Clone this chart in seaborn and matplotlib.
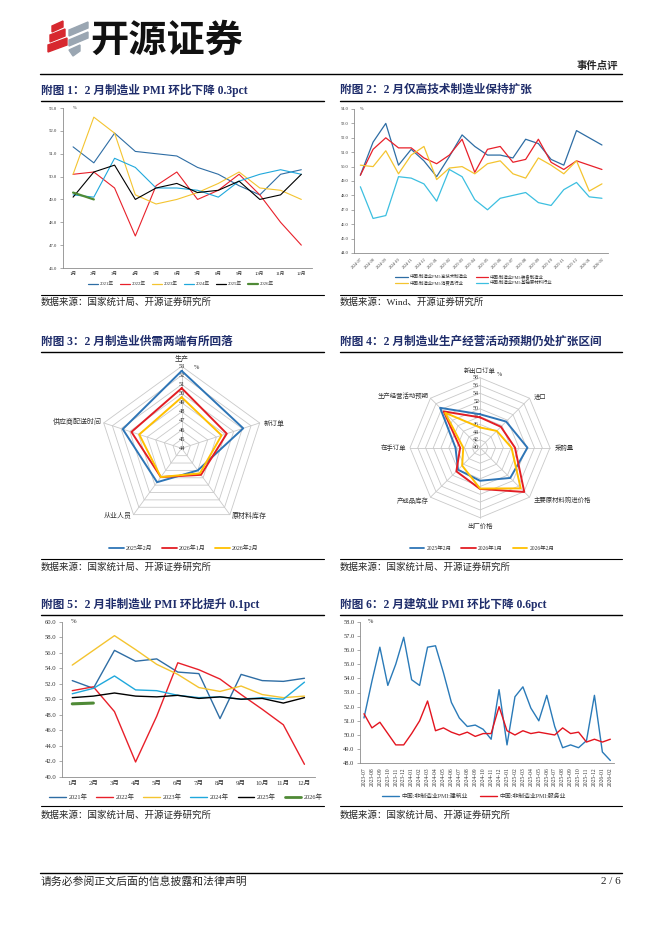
import numpy as np
import pandas as pd
import matplotlib
matplotlib.use("Agg")
import matplotlib.pyplot as plt
import seaborn as sns
from matplotlib.lines import Line2D
from matplotlib.patches import Polygon
from matplotlib.ticker import FormatStrFormatter

# 页面尺寸（像素）
W, H = 662, 936
sns.set_theme(style="white")
plt.rcParams['font.family'] = ['Liberation Serif', 'Noto Sans CJK SC', 'DejaVu Sans']
plt.rcParams['axes.unicode_minus'] = False

NAVY = "#1f2d6b"

# ---------------- 数据 ----------------
months = ["1月", "2月", "3月", "4月", "5月", "6月", "7月", "8月", "9月", "10月", "11月", "12月"]
year_names = ["2021年", "2022年", "2023年", "2024年", "2025年", "2026年"]
year_colors = ["#2e6da4", "#e8202a", "#f4c430", "#1fa8dc", "#000000", "#4f8a36"]

# 附图1 制造业PMI
pmi_2021 = [51.3, 50.6, 51.9, 51.1, 51.0, 50.9, 50.4, 50.1, 49.6, 49.2, 50.1, 50.3]
pmi_2022 = [50.1, 50.2, 49.5, 47.4, 49.6, 50.2, 49.0, 49.4, 50.1, 49.2, 48.0, 47.0]
pmi_2023 = [50.1, 52.6, 51.9, 49.2, 48.8, 49.0, 49.3, 49.7, 50.2, 49.5, 49.4, 49.0]
pmi_2024 = [49.2, 49.1, 50.8, 50.4, 49.5, 49.5, 49.4, 49.1, 49.8, 50.1, 50.3, 50.1]
pmi_2025 = [49.1, 50.2, 50.5, 49.0, 49.5, 49.7, 49.3, 49.4, 49.8, 49.0, 49.2, 50.1]
pmi_2026 = [49.3, 49.0]

# 附图2 分行业PMI
ind_months = ["2024-07", "2024-08", "2024-09", "2024-10", "2024-11", "2024-12",
              "2025-01", "2025-02", "2025-03", "2025-04", "2025-05", "2025-06",
              "2025-07", "2025-08", "2025-09", "2025-10", "2025-11", "2025-12",
              "2026-01", "2026-02"]
ind_names = ["中国:制造业PMI:高技术制造业", "中国:制造业PMI:装备制造业",
             "中国:制造业PMI:消费品行业", "中国:制造业PMI:基础原材料行业"]
ind_colors = ["#2e6da4", "#e8202a", "#f4c430", "#3cbfe0"]
hitech = [49.4, 51.7, 53.0, 50.1, 51.2, 50.4, 49.3, 50.7, 52.2, 51.4,
          50.8, 50.8, 50.6, 51.9, 51.6, 50.5, 50.1, 52.5, 52.0, 51.5]
equip = [49.4, 51.2, 52.0, 51.3, 51.3, 50.6, 50.2, 50.8, 51.9, 49.6,
         51.2, 51.4, 50.3, 50.5, 51.9, 50.3, 49.8, 50.4, 50.1, 49.8]
consumer = [50.1, 50.0, 51.1, 49.5, 50.8, 51.4, 49.1, 49.9, 50.0, 49.5,
            50.2, 50.4, 49.5, 49.2, 50.6, 50.1, 49.5, 50.4, 48.3, 48.8]
material = [48.6, 46.4, 46.6, 49.3, 49.2, 48.8, 47.6, 49.8, 49.3, 47.7,
            47.0, 47.8, 48.0, 48.2, 47.5, 47.3, 48.4, 48.9, 47.9, 47.8]

# 附图3 供需分项
sd_axes = ["生产", "新订单", "原材料库存", "从业人员", "供应商配送时间"]
sd_names = ["2025年2月", "2026年1月", "2026年2月"]
radar_colors = ["#2e75b6", "#e31e24", "#ffc000"]
sd_2502 = [52.5, 51.1, 47.0, 48.6, 50.8]
sd_2601 = [50.6, 49.2, 47.6, 47.9, 49.8]
sd_2602 = [49.6, 48.6, 47.4, 47.9, 48.9]

# 附图4 其他分项
op_axes = ["新出口订单", "进口", "采购量", "主要原材料购进价格",
           "出厂价格", "产成品库存", "在手订单", "生产经营活动预期"]
op_2502 = [48.6, 49.5, 52.2, 51.0, 48.5, 48.0, 46.3, 54.5]
op_2601 = [47.8, 47.6, 49.0, 56.1, 50.6, 48.6, 45.1, 53.2]
op_2602 = [45.2, 46.1, 48.1, 54.8, 50.5, 46.5, 44.3, 52.7]

# 附图5 非制造业PMI
nm_2021 = [52.4, 51.4, 56.3, 54.9, 55.2, 53.5, 53.3, 47.5, 53.2, 52.4, 52.3, 52.7]
nm_2022 = [51.1, 51.6, 48.4, 41.9, 47.8, 54.7, 53.8, 52.6, 50.6, 48.7, 46.7, 41.6]
nm_2023 = [54.4, 56.3, 58.2, 56.4, 54.5, 53.2, 51.5, 51.0, 51.7, 50.6, 50.2, 50.4]
nm_2024 = [50.7, 51.4, 53.0, 51.2, 51.1, 50.5, 50.2, 50.3, 50.0, 50.2, 50.0, 52.2]
nm_2025 = [50.2, 50.4, 50.8, 50.4, 50.3, 50.5, 50.1, 50.3, 50.0, 50.1, 49.5, 50.2]
nm_2026 = [49.4, 49.5]

# 附图6 建筑业与服务业
cs_months = ["2023-07", "2023-08", "2023-09", "2023-10", "2023-11", "2023-12",
             "2024-01", "2024-02", "2024-03", "2024-04", "2024-05", "2024-06",
             "2024-07", "2024-08", "2024-09", "2024-10", "2024-11", "2024-12",
             "2025-01", "2025-02", "2025-03", "2025-04", "2025-05", "2025-06",
             "2025-07", "2025-08", "2025-09", "2025-10", "2025-11", "2025-12",
             "2026-01", "2026-02"]
cs_names = ["中国:非制造业PMI:建筑业", "中国:非制造业PMI:服务业"]
cs_colors = ["#2a7ab8", "#e3141f"]
construction = [51.2, 53.8, 56.2, 53.5, 55.0, 56.9, 53.9, 53.5, 56.2, 56.3, 54.4, 52.3,
                51.2, 50.6, 50.7, 50.4, 49.7, 53.2, 49.3, 52.7, 53.4, 51.9, 51.0, 52.8,
                50.6, 49.1, 49.3, 49.1, 49.6, 52.8, 48.8, 48.2]
services = [51.5, 50.5, 50.9, 50.1, 49.3, 49.3, 50.1, 51.0, 52.4, 50.3, 50.5, 50.2,
            50.0, 50.2, 49.9, 50.1, 50.1, 52.0, 50.3, 50.0, 50.3, 50.1, 50.2, 50.1,
            50.0, 50.5, 50.1, 50.2, 49.5, 49.7, 49.5, 49.7]


# ---------------- 工具 ----------------
def box(x0, y0, x1, y1):
    return [x0 / W, 1 - y1 / H, (x1 - x0) / W, (y1 - y0) / H]


def ftext(x, y, s, **kw):
    fig.text(x / W, 1 - y / H, s, **kw)


def hline(x0, x1, y, lw=1.0, color="black"):
    fig.add_artist(Line2D([x0 / W, x1 / W], [1 - y / H, 1 - y / H], color=color, lw=lw))


def style_line_ax(ax, ylim, ystep, labels, fs_y, fs_x, rot=0, pct_x=0.04):
    n = len(labels)
    ax.set_xlim(-0.5, n - 0.5)
    ax.set_ylim(*ylim)
    ax.set_yticks(np.arange(ylim[0], ylim[1] + ystep / 2, ystep))
    ax.yaxis.set_major_formatter(FormatStrFormatter('%.1f'))
    ax.set_xticks(range(n))
    if rot == 45:
        ax.set_xticklabels(labels, rotation=45, ha="right", rotation_mode="anchor", fontsize=fs_x)
    elif rot == 90:
        ax.set_xticklabels(labels, rotation=90, fontsize=fs_x)
    else:
        ax.set_xticklabels(labels, fontsize=fs_x)
    ax.set_xticks(np.arange(-0.5, n), minor=True)
    ax.tick_params(axis='x', which='major', length=0, pad=3, colors="#333333")
    ax.tick_params(axis='x', which='minor', length=2, width=0.5, color="#888888", direction="out")
    ax.tick_params(axis='y', which='major', length=2, width=0.5, color="#888888",
                   labelsize=fs_y, labelcolor="#333333", pad=2, left=True)
    for s in ["top", "right"]:
        ax.spines[s].set_visible(False)
    for s in ["left", "bottom"]:
        ax.spines[s].set_color("#8c8c8c")
        ax.spines[s].set_linewidth(0.6)
    ax.set_xlabel("")
    ax.set_ylabel("")
    ax.text(pct_x, 1.0, "%", transform=ax.transAxes, fontsize=fs_y, va="center", color="#333333")
    ax.set_facecolor("none")


def draw_series(ax, series, colors, widths):
    for vals, c, lw in zip(series, colors, widths):
        sns.lineplot(x=np.arange(len(vals)), y=vals, ax=ax, color=c, linewidth=lw, estimator=None)


def make_legend(names, colors, widths, cx, cy, fs, ncol, hl=1.8, cs=1.4, order=None):
    handles = [Line2D([], [], color=c, lw=lw) for c, lw in zip(colors, widths)]
    if order is not None:
        handles = [handles[i] for i in order]
        names = [names[i] for i in order]
    fig.legend(handles, names, loc="center", bbox_to_anchor=(cx / W, 1 - cy / H), ncol=ncol,
               frameon=False, fontsize=fs, handlelength=hl, columnspacing=cs,
               handletextpad=0.4, labelspacing=0.35, borderpad=0, labelcolor="#333333")


def radar(rect, labels, series, rmin, rmax, step, ppu, label_specs, tick_fs, tick_ha, lab_fs):
    ax = fig.add_axes(box(*rect))
    half = (rect[2] - rect[0]) / 2 / ppu
    ax.set_xlim(-half, half)
    ax.set_ylim(-half, half)
    ax.axis("off")
    n = len(labels)
    ang = np.pi / 2 - 2 * np.pi * np.arange(n) / n
    ca, sa = np.cos(ang), np.sin(ang)
    R = rmax - rmin
    tick_x = -1.0 / ppu if tick_ha == "right" else 0
    for r in np.arange(rmin, rmax + step / 2, step):
        rr = r - rmin
        ax.plot(np.append(rr * ca, rr * ca[0]), np.append(rr * sa, rr * sa[0]),
                color="#c9c9c9", lw=0.6, zorder=1)
        ax.text(tick_x, rr, f"{r:g}", ha=tick_ha, va="center", fontsize=tick_fs,
                color="#333333", zorder=2)
    for c_, s_ in zip(ca, sa):
        ax.plot([0, R * c_], [0, R * s_], color="#c9c9c9", lw=0.6, zorder=1)
    for vals, col in zip(series, radar_colors):
        rr = np.array(vals) - rmin
        sns.lineplot(x=np.append(rr * ca, rr[0] * ca[0]), y=np.append(rr * sa, rr[0] * sa[0]),
                     ax=ax, sort=False, estimator=None, color=col, linewidth=1.4, zorder=3)
    for i, (lab, (dx, dy, ha, va)) in enumerate(zip(labels, label_specs)):
        ax.text(R * ca[i] + dx / ppu, R * sa[i] + dy / ppu, lab, ha=ha, va=va,
                fontsize=lab_fs, color="#333333")
    return ax


fig = plt.figure(figsize=(W / 100, H / 100), dpi=100)

# ---------------- 页眉 ----------------
red_bars = [[(52, 26), (63, 21), (63, 27), (52, 32)],
            [(50, 35), (65, 29), (65, 36), (50, 42)],
            [(48, 45), (67, 38), (67, 45), (48, 52)]]
grey_bars = [[(69, 30), (88, 22), (88, 28), (69, 36)],
             [(69, 40), (88, 32), (88, 38), (69, 46)],
             [(69, 50), (80, 45), (80, 51), (73, 56)]]
for pts in red_bars:
    fig.add_artist(Polygon([(x / W, 1 - y / H) for x, y in pts], closed=True,
                           color="#d7282f", transform=fig.transFigure))
for pts in grey_bars:
    fig.add_artist(Polygon([(x / W, 1 - y / H) for x, y in pts], closed=True,
                           color="#9aa6b2", transform=fig.transFigure))
ftext(90, 40, "开源证券", fontsize=27.5, fontweight="bold", va="center", ha="left",
      family=["Noto Sans CJK SC"], color="#111111")
ftext(618, 66, "事件点评", fontsize=7.5, fontweight="bold", ha="right", va="center")
hline(40, 622, 73.5, lw=1.0)

# ---------------- 标题与来源 ----------------
titles = ["附图 1：2 月制造业 PMI 环比下降 0.3pct", "附图 2：2 月仅高技术制造业保持扩张",
          "附图 3：2 月制造业供需两端有所回落", "附图 4：2 月制造业生产经营活动预期仍处扩张区间",
          "附图 5：2 月非制造业 PMI 环比提升 0.1pct", "附图 6：2 月建筑业 PMI 环比下降 0.6pct"]
sources = ["数据来源：国家统计局、开源证券研究所", "数据来源：Wind、开源证券研究所",
           "数据来源：国家统计局、开源证券研究所", "数据来源：国家统计局、开源证券研究所",
           "数据来源：国家统计局、开源证券研究所", "数据来源：国家统计局、开源证券研究所"]
title_y = [90, 90, 342, 342, 604, 604]
tline_y = [101, 101, 352, 352, 614.5, 614.5]
bline_y = [294.5, 294.5, 559, 559, 806, 806]
src_y = [302, 302, 567, 567, 815, 815]
col_x = [(41, 324), (340, 622)]
for k in range(6):
    x0, x1 = col_x[k % 2]
    ftext(x0, title_y[k], titles[k], fontsize=8.4, fontweight="bold", color=NAVY, va="center")
    hline(x0, x1, tline_y[k], lw=1.0)
    hline(x0, x1, bline_y[k], lw=0.8)
    ftext(x0, src_y[k], sources[k], fontsize=6.8, va="center")

# ---------------- 附图1 ----------------
ax1 = fig.add_axes(box(62.7, 108, 311.7, 268))
draw_series(ax1, [pmi_2021, pmi_2022, pmi_2023, pmi_2024, pmi_2025, pmi_2026],
            year_colors, [0.8] * 5 + [1.6])
style_line_ax(ax1, (46, 53), 1.0, months, 3.4, 3.4, pct_x=0.04)
make_legend(year_names, year_colors, [0.9] * 5 + [1.6], 181, 284, 3.4, 6, hl=2.2, cs=1.2)

# ---------------- 附图2 ----------------
ax2 = fig.add_axes(box(354, 109, 608.3, 253))
draw_series(ax2, [hitech, equip, consumer, material], ind_colors, [0.9] * 4)
style_line_ax(ax2, (44, 54), 1.0, ind_months, 3.2, 3.0, rot=45, pct_x=0.025)
make_legend(ind_names, ind_colors, [0.9] * 4, 474, 280, 3.2, 2, hl=2.8, cs=1.8,
            order=[0, 2, 1, 3])

# ---------------- 附图3 ----------------
radar((81.7, 348.3, 281.7, 548.3), sd_axes, [sd_2502, sd_2601, sd_2602],
      44, 53, 1, 82 / 9,
      [(0, 4, "center", "bottom"), (4, 0, "left", "center"), (2, -1, "left", "center"),
       (-2, -1, "right", "center"), (-2, 2, "right", "center")],
      4.6, "center", 5.0)
ftext(194, 368, "%", fontsize=4.6, color="#333333", va="center")
make_legend(sd_names, radar_colors, [1.3] * 3, 184, 548.3, 4.3, 3, hl=2.4, cs=1.6)

# ---------------- 附图4 ----------------
radar((380, 347.7, 580, 547.7), op_axes, [op_2502, op_2601, op_2602],
      40, 58, 2, 70 / 18,
      [(0, 4, "center", "bottom"), (4, 2, "left", "center"), (5, 0, "left", "center"),
       (4, -3, "left", "center"), (0, -5, "center", "top"), (-2, -3, "right", "center"),
       (-4, 0, "right", "center"), (-2, 2, "right", "center")],
      4.3, "right", 4.6)
ftext(497, 374, "%", fontsize=4.3, color="#333333", va="center")
make_legend(sd_names, radar_colors, [1.3] * 3, 482, 548.3, 4.0, 3, hl=2.6, cs=1.8)

# ---------------- 附图5 ----------------
ax5 = fig.add_axes(box(61.7, 621.7, 315, 776.7))
draw_series(ax5, [nm_2021, nm_2022, nm_2023, nm_2024, nm_2025, nm_2026],
            year_colors, [1.0] * 5 + [2.2])
style_line_ax(ax5, (40, 60), 2.0, months, 4.8, 4.8, pct_x=0.035)
make_legend(year_names, year_colors, [1.0] * 5 + [2.0], 186, 797, 4.6, 6, hl=2.6, cs=1.4)

# ---------------- 附图6 ----------------
ax6 = fig.add_axes(box(360, 621.7, 614.3, 763.3))
draw_series(ax6, [construction, services], cs_colors, [1.0, 1.0])
style_line_ax(ax6, (48, 58), 1.0, cs_months, 4.6, 4.0, rot=90, pct_x=0.03)
make_legend(cs_names, cs_colors, [1.0, 1.0], 474, 796, 4.2, 2, hl=3.0, cs=2.0)

# ---------------- 页脚 ----------------
hline(40, 622, 873, lw=1.0)
ftext(41, 882, "请务必参阅正文后面的信息披露和法律声明", fontsize=7.8, va="center")
ftext(621, 882, "2 / 6", fontsize=8.0, va="center", ha="right")

fig.savefig("out.png", dpi=100)
